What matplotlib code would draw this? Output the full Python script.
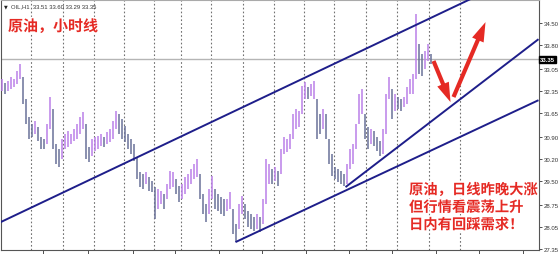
import matplotlib
matplotlib.use("Agg")
import matplotlib.pyplot as plt
import matplotlib.patheffects as pe

plt.rcParams['font.family'] = ['Noto Sans CJK SC', 'DejaVu Sans']

# ---------------- data (OIL, H1 bars: high / low) ----------------
highs = [32.73, 32.60, 32.66, 32.79, 32.73, 32.98, 33.20, 32.79, 32.10, 31.53,
         31.30, 31.40, 31.21, 30.89, 30.83, 31.30, 32.16, 31.78, 30.67, 30.51,
         30.83, 30.99, 31.08, 30.99, 31.15, 31.30, 31.53, 31.68, 31.30, 30.58,
         30.83, 30.89, 30.92, 30.99, 30.89, 31.05, 31.15, 31.40, 31.72, 31.62,
         31.46, 31.24, 30.99, 30.83, 30.67, 30.26, 29.78, 29.72, 29.78, 29.63,
         29.50, 29.31, 29.25, 29.18, 29.09, 29.41, 29.82, 29.78, 29.56, 29.34,
         29.41, 29.63, 29.72, 29.88, 30.04, 30.20, 29.72, 29.09, 28.77, 29.25,
         29.66, 29.25, 29.09, 28.99, 28.93, 28.93, 29.15, 28.61, 28.14, 28.77,
         29.03, 28.77, 28.55, 28.46, 28.36, 28.46, 28.36, 28.93, 30.20, 30.04,
         29.88, 29.94, 29.82, 30.51, 30.89, 30.83, 30.99, 31.62, 31.78, 31.72,
         32.51, 32.63, 32.47, 32.57, 32.66, 32.10, 31.62, 31.78, 31.62, 30.83,
         30.35, 29.94, 29.88, 29.82, 29.72, 30.04, 30.51, 30.67, 31.30, 32.25,
         32.41, 31.62, 31.21, 31.15, 31.08, 30.89, 30.77, 31.15, 32.25, 32.79,
         32.41, 32.25, 32.16, 32.10, 32.16, 32.47, 32.73, 32.89, 34.78, 33.84,
         33.52, 33.61, 33.84, 33.52]
lows = [32.35, 32.25, 32.35, 32.41, 32.47, 32.57, 32.73, 31.94, 31.30, 30.83,
        30.89, 30.99, 30.77, 30.51, 30.51, 30.67, 31.15, 30.51, 30.04, 29.94,
        30.20, 30.51, 30.58, 30.67, 30.77, 30.83, 30.99, 31.15, 30.20, 30.10,
        30.29, 30.45, 30.51, 30.61, 30.58, 30.67, 30.73, 30.83, 31.15, 30.99,
        30.83, 30.73, 30.51, 30.35, 30.13, 29.56, 29.31, 29.25, 29.41, 29.18,
        29.15, 28.30, 28.61, 28.77, 28.61, 28.93, 29.25, 29.31, 29.09, 28.84,
        28.93, 29.09, 29.25, 29.41, 29.56, 29.63, 28.93, 28.46, 28.20, 28.46,
        28.93, 28.61, 28.55, 28.46, 28.39, 28.55, 28.61, 27.82, 27.57, 27.98,
        28.46, 28.30, 28.04, 27.98, 27.92, 27.98, 27.88, 28.14, 28.77, 29.41,
        29.41, 29.50, 29.34, 29.72, 30.35, 30.42, 30.51, 30.83, 31.15, 31.21,
        31.62, 32.10, 32.10, 32.19, 32.10, 30.83, 30.99, 31.15, 30.83, 30.04,
        29.66, 29.56, 29.47, 29.41, 29.34, 29.41, 29.88, 30.04, 30.51, 31.30,
        31.62, 30.83, 30.51, 30.67, 30.61, 30.45, 30.29, 30.35, 30.99, 32.10,
        31.46, 31.72, 31.78, 31.72, 31.84, 31.94, 32.25, 32.25, 32.73, 32.89,
        32.82, 33.04, 33.30, 33.20]

price_ticks = [27.35, 28.05, 28.75, 29.50, 30.20, 30.90, 31.65, 32.35,
               33.05, 33.80, 34.50]
last_price = 33.35
header = "OIL,H1  33.51 33.60 33.29 33.35"

# grid (bar positions) and drawn objects (bar index, price)
grid_bars = [9.83, 20.17, 30.5, 40.83, 50.83, 59.5, 69.83, 80.17, 90.5,
             100.5, 110.83, 121.17, 131.5, 142.17, 152.5]
x_tick_bars = [13.8, 28.8, 43.5, 57.8, 72.2, 86.8, 101.2, 115.5, 130.0,
               144.5, 159.0, 173.5]
upper_line = [(-0.5, 28.2), (156.17, 35.26)]
lower_line = [(77.83, 27.57), (178.83, 32.06)]
steep_line = [(114.5, 29.31), (178.83, 33.99)]
arrow_down = [(143.83, 33.30), (149.5, 32.00)]
arrow_up = [(150.5, 32.16), (161.17, 34.53)]

title_txt = "原油，小时线"
note_lines = ["原油，日线昨晚大涨", "但行情看震荡上升", "日内有回踩需求！"]

# ---------------- figure ----------------
W, H = 560, 255
fig = plt.figure(figsize=(W / 100, H / 100), dpi=100)
fig.patch.set_facecolor("white")
ax = fig.add_axes([0.5 / W, 4 / H, 538 / W, 250 / H])
ax.set_facecolor("white")

n = len(highs)
xs = list(range(n))
mids = [(h + l) / 2 for h, l in zip(highs, lows)]
up_c, dn_c = "#bb80e8", "#6a7198"
cols = [up_c] + [up_c if mids[i] >= mids[i - 1] else dn_c for i in range(1, n)]
ax.vlines(xs, lows, highs, colors=cols, linewidth=1.1, zorder=3)

for g in grid_bars:
    ax.axvline(g, color="#707070", linestyle=(0, (1.5, 2)), linewidth=0.8, zorder=1)
ax.axhline(last_price, color="#b5b5b5", linewidth=1.0, zorder=2)

line_kw = dict(color="#1e1e8a", linewidth=1.4, zorder=4, solid_capstyle="butt")
for seg in (upper_line, lower_line, steep_line):
    ax.plot([seg[0][0], seg[1][0]], [seg[0][1], seg[1][1]], **line_kw)

red = "#e52a24"
for a in (arrow_down, arrow_up):
    ax.annotate("", xy=a[1], xytext=a[0],
                arrowprops=dict(arrowstyle="simple,head_length=1.4,head_width=0.9,tail_width=0.3",
                                color=red, lw=0, shrinkA=0, shrinkB=0), zorder=5)

ax.set_xlim(-0.5, 178.83)
ax.set_ylim(27.32, 35.23)

ax.yaxis.tick_right()
ax.set_yticks(price_ticks)
ax.set_yticklabels([f"{t:.2f}" for t in price_ticks], fontsize=4.3,
                   family="Liberation Sans", color="#333333")
ax.tick_params(axis="y", length=2.5, width=0.6, pad=1.5, colors="#333333")
ax.set_xticks(x_tick_bars)
ax.set_xticklabels([])
ax.tick_params(axis="x", length=3, width=0.6, colors="#333333")
for s in ax.spines.values():
    s.set_color("#555555")
    s.set_linewidth(0.8)
ax.spines["top"].set_color("#aaaaaa")

# current price tag
ax.text(1.003, (last_price - 27.32) / (35.23 - 27.32), f"{last_price:.2f}",
        transform=ax.transAxes, fontsize=4.3, family="Liberation Sans",
        color="white", va="center", ha="left", fontweight="bold",
        bbox=dict(boxstyle="square,pad=0.15", fc="black", ec="black"),
        clip_on=False, zorder=6)

# header
ax.text(0.006, 0.975, "▼", transform=ax.transAxes, fontsize=3.5,
        family="DejaVu Sans", color="#222222", va="center", ha="left")
ax.text(0.02, 0.975, header, transform=ax.transAxes, fontsize=4.2,
        family="Liberation Sans", color="#333333", va="center", ha="left")

fx = [pe.Stroke(linewidth=2.2, foreground="white"), pe.Normal()]
fig.text(8 / W, 1 - 27 / H, title_txt, fontsize=10.8, color=red,
         fontweight="bold", va="center", ha="left", path_effects=fx, zorder=10)
for k, t in enumerate(note_lines):
    fig.text(409 / W, 1 - (191 + 17.5 * k) / H, t, fontsize=10.3, color=red,
             fontweight="bold", va="center", ha="left", path_effects=fx, zorder=10)

fig.savefig("out.png", dpi=100, facecolor="white")
